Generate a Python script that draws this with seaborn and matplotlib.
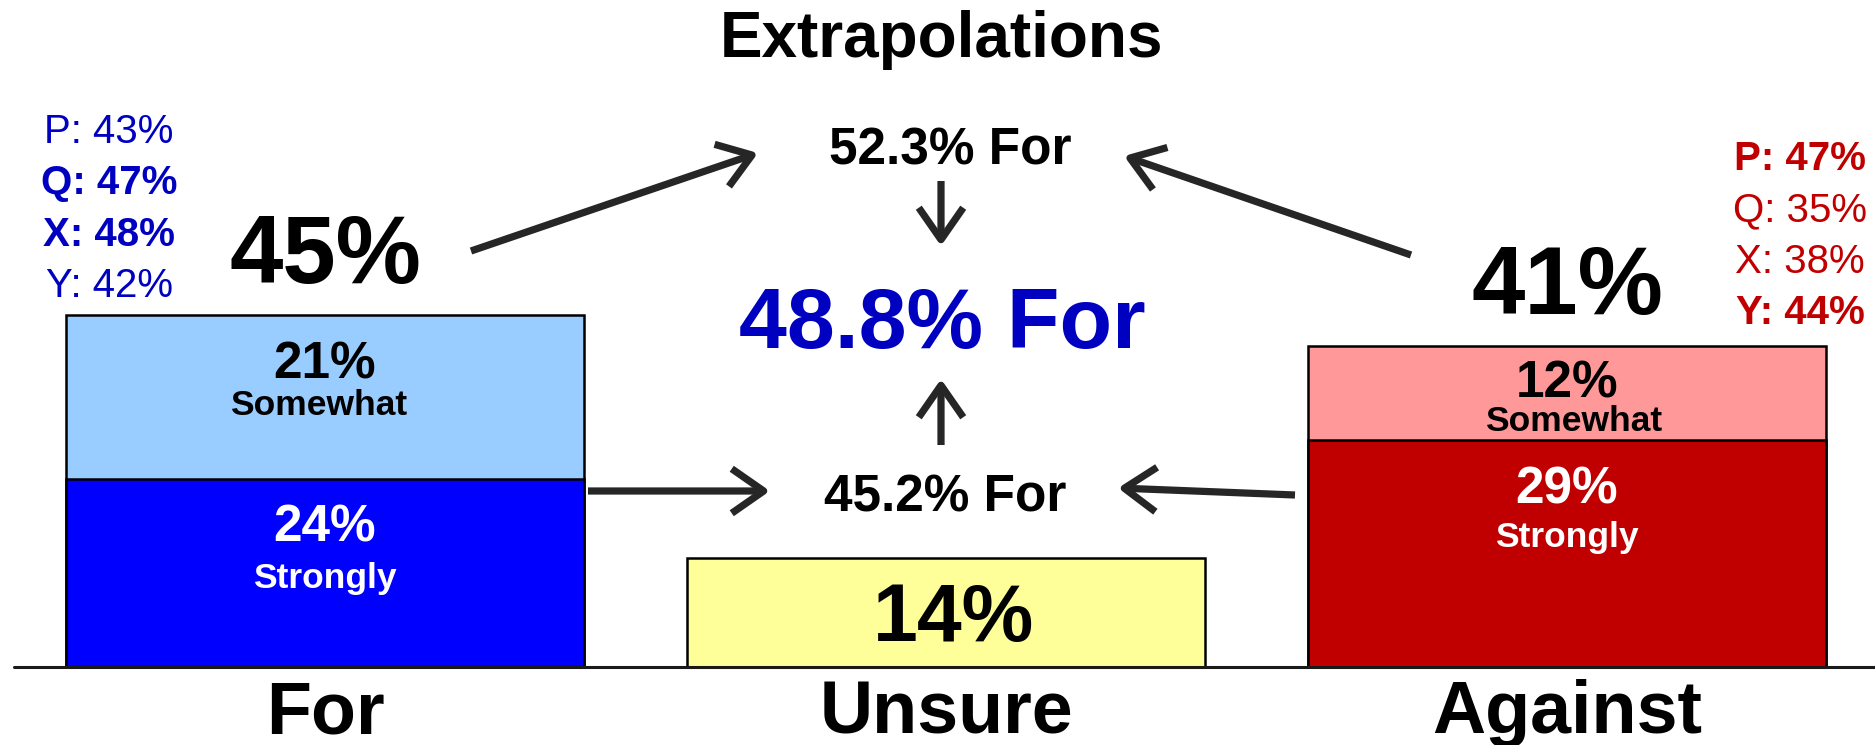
import matplotlib
matplotlib.use('Agg')
import matplotlib.pyplot as plt
import seaborn as sns

# data
categories = ['For', 'Unsure', 'Against']
totals = [45, 14, 41]
strong_cats = ['For', 'Against']
strongly = [24, 29]
somewhat = [21, 12]
extrap_top = '52.3% For'
extrap_bottom = '45.2% For'
extrap_mid = '48.8% For'
left_polls = ['P: 43%', 'Q: 47%', 'X: 48%', 'Y: 42%']
left_bold = [False, True, True, False]
right_polls = ['P: 47%', 'Q: 35%', 'X: 38%', 'Y: 44%']
right_bold = [True, False, False, True]

light_colors = {'For': '#99CCFF', 'Unsure': '#FFFF99', 'Against': '#FF9999'}
dark_colors = {'For': '#0000FF', 'Against': '#C00000'}
BLUE_TXT = '#0000C0'
RED_TXT = '#C00000'
ARROW = '#262626'

sns.set_style('white')
plt.rcParams['font.family'] = ['Liberation Sans', 'DejaVu Sans']
plt.rcParams['font.weight'] = 'bold'
plt.rcParams['text.color'] = 'black'

W, H = 1875, 745
fig = plt.figure(figsize=(W / 100, H / 100), dpi=100)
ax = fig.add_axes([0, 0, 1, 1])

# pixel mapping of the reference: category 0 centre, px per category, baseline, px per %
X0, XS, Y0, YS = 325, 621, 667, 7.82


def dx(px):
    return (px - X0) / XS


def dy(py):
    return (Y0 - py) / YS


# total bars (light colours), then the "strongly" part on top
sns.barplot(x=categories, y=totals, hue=categories, palette=light_colors,
            order=categories, width=0.834, saturation=1, edgecolor='black',
            linewidth=1.8, legend=False, ax=ax)
sns.barplot(x=strong_cats, y=strongly, hue=strong_cats, palette=dark_colors,
            order=categories, width=0.834, saturation=1, edgecolor='black',
            linewidth=1.8, legend=False, ax=ax)

ax.set_xlim(dx(0), dx(W))
ax.set_ylim(dy(H), dy(0))
ax.axis('off')
ax.axhline(0, xmin=14 / W, xmax=1, color='#1a1a1a', lw=2.2, zorder=5)

# totals above the bars
for i, cat in enumerate(categories):
    if cat == 'Unsure':
        continue
    ax.annotate(f'{totals[i]}%', xy=(i, totals[i]), xytext=(0, 23),
                textcoords='offset points', ha='center', va='baseline',
                fontsize=69, fontweight='bold')
ax.text(dx(953), dy(641), f'{totals[1]}%', ha='center', va='baseline',
        fontsize=58, fontweight='bold')

# segment labels
seg_pos = {'For': (378, 415, 542, 588), 'Against': (398, 431, 503, 547)}
for j, cat in enumerate(strong_cats):
    i = categories.index(cat)
    a, b, c, d = seg_pos[cat]
    ax.text(i, dy(a), f'{somewhat[j]}%', ha='center', va='baseline',
            fontsize=37, fontweight='bold')
    ax.text(i - 0.01 if cat == 'For' else i + 0.01, dy(b), 'Somewhat',
            ha='center', va='baseline', fontsize=25.5, fontweight='bold')
    ax.text(i, dy(c), f'{strongly[j]}%', ha='center', va='baseline',
            fontsize=37, fontweight='bold', color='white')
    ax.text(i, dy(d), 'Strongly', ha='center', va='baseline',
            fontsize=25.5, fontweight='bold', color='white')

# category labels under the axis
for i, cat in enumerate(categories):
    ax.text(i, dy(733), cat, ha='center', va='baseline', fontsize=53,
            fontweight='bold')

# poll lists
for k, (txt, bold) in enumerate(zip(left_polls, left_bold)):
    ax.text(dx(109), dy(143 + 51.3 * k), txt, ha='center', va='baseline',
            fontsize=29, color=BLUE_TXT,
            fontweight='bold' if bold else 'normal')
for k, (txt, bold) in enumerate(zip(right_polls, right_bold)):
    ax.text(dx(1800), dy(170 + 51.3 * k), txt, ha='center', va='baseline',
            fontsize=29, color=RED_TXT,
            fontweight='bold' if bold else 'normal')

# extrapolations block
ax.text(dx(941), dy(57), 'Extrapolations', ha='center', va='baseline',
        fontsize=46, fontweight='bold')
ax.text(dx(950), dy(164), extrap_top, ha='center', va='baseline',
        fontsize=37, fontweight='bold')
ax.text(dx(945), dy(511), extrap_bottom, ha='center', va='baseline',
        fontsize=37, fontweight='bold')
ax.text(dx(942), dy(348), extrap_mid, ha='center', va='baseline',
        fontsize=62, fontweight='bold', color=BLUE_TXT)

arrows = [
    ((471, 251), (758, 153)),
    ((1411, 255), (1124, 156)),
    ((588, 491), (770, 491)),
    ((1295, 495), (1118, 488)),
    ((941, 181), (941, 246)),
    ((941, 445), (941, 379)),
]
for (tx, ty), (hx, hy) in arrows:
    ax.annotate('', xy=(dx(hx), dy(hy)), xytext=(dx(tx), dy(ty)),
                arrowprops=dict(arrowstyle='->,head_length=1.15,head_width=0.8',
                                lw=5.2, color=ARROW, mutation_scale=20,
                                shrinkA=0, shrinkB=0, capstyle='butt',
                                joinstyle='round'))

fig.savefig('out.png', dpi=100)
